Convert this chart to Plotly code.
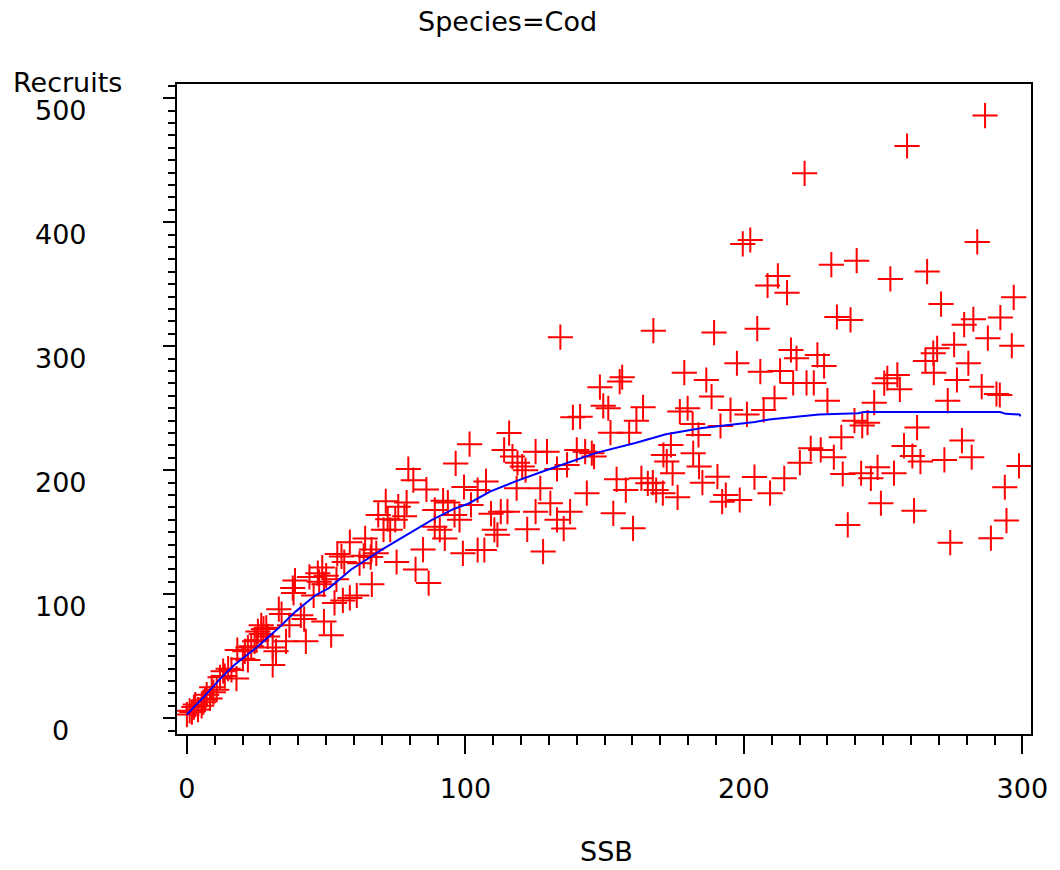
import plotly.graph_objects as go

# ---- data ----
ssb = [
    0.0, 1.0, 1.8, 2.5, 3.0, 4.0, 5.3, 5.9, 6.5, 7.1, 8.3, 8.9, 9.5, 10.7, 11.9, 13.0, 13.6, 14.8, 16.0, 17.8, 18.1,
    20.1, 21.9, 20.8, 21.9, 23.1, 24.3, 25.0, 25.5, 26.7, 27.5, 28.5, 26.7, 29.0, 30.8, 32.0, 30.8, 33.0, 34.0, 36.8, 35.6, 38.0, 38.3, 38.8, 40.9, 42.1,
    42.7, 44.0, 45.5, 47.0, 48.6, 50.0, 47.5, 49.2, 49.2, 51.8, 53.0, 56.0, 58.5, 61.0, 53.7, 56.5, 54.0, 55.5, 58.5,
    64.0, 62.0, 63.5, 66.0, 68.0, 66.3, 66.4, 70.6, 73.0, 72.1, 74.8, 68.7, 71.4, 75.9, 78.9, 78.1, 75.3, 82.1, 84.8, 86.8,
    79.5, 81.3, 86.0, 89.0, 92.0, 93.7, 96.1, 97.9, 89.0, 90.8, 92.6, 99.1, 96.5, 101.5, 99.5,
    104.4, 107.4, 102.0, 109.2, 112.7, 115.1, 110.4, 111.5, 104.4, 106.8, 118.4, 126.9, 125.2, 130.5, 132.9, 135.3, 137.6,
    122.2, 127.9, 115.7, 113.9, 116.9, 118.7, 120.4, 121.6, 125.2, 129.3, 132.9, 136.5, 134.1, 138.6,
    141.2, 140.0, 143.0, 145.4, 146.2, 143.6, 153.1, 160.2, 167.5, 189.3, 178.6, 186.5, 188.4, 156.3, 155.4, 148.3, 149.5,
    151.3, 163.8, 161.4, 152.1, 158.8, 177.0, 179.8, 195.2, 181.6, 183.7, 191.6, 173.8, 171.1, 172.3, 181.8, 183.9, 154.3,
    163.2, 165.5, 167.3, 174.4, 168.5, 170.9, 185.1, 190.5, 176.2, 157.6, 193.5, 192.2, 198.5, 197.5, 199.6,
    202.3, 204.8, 201.1, 203.8, 209.4, 214.5, 286.6, 258.6, 221.8, 283.8, 231.4, 240.5, 252.6, 265.8, 212.2, 208.5, 215.5,
    296.9, 270.8, 233.4, 238.3, 282.4, 279.1, 292.1, 287.6, 296.2, 275.5, 269.4, 268.0, 265.2, 280.6, 268.2, 276.5, 285.4,
    216.9, 218.9, 226.4, 228.8, 205.9, 213.0, 217.7, 222.5, 225.1, 255.1, 251.5, 250.4, 256.0, 290.7, 291.9, 211.0, 207.1,
    230.0, 246.8, 273.2, 239.7, 242.5, 244.4, 262.2, 278.3, 235.0, 224.0, 227.6, 232.3, 220.1, 257.5, 260.5, 263.4, 272.0,
    281.8, 298.8, 235.5, 242.1, 248.0, 245.6, 253.9, 293.7, 249.2, 261.1, 237.3, 294.3, 274.1, 288.7,
]
recruits = [
    3, 6, 5, 9, 11, 7, 10, 13, 15, 19, 16, 25, 21, 23, 33, 38, 34, 40, 39, 32, 55,
    48, 47, 54, 57, 58, 62, 63, 70, 75, 72, 73, 68, 66, 57, 54, 43, 88, 84, 75, 62, 105, 101, 111, 83, 80,
    62, 114, 99, 117, 121.5, 115, 110, 108, 78, 67, 93, 95, 97, 99, 112, 126, 132.5, 130.5, 142,
    145, 125, 131, 130, 133, 136, 108, 152, 152, 160.5, 160, 164, 175, 170.6, 174, 163, 126, 120, 136, 109,
    201, 192, 184.5, 168, 175.5, 174, 164, 160, 154.5, 152, 145, 133, 205.5, 221, 186.5,
    184, 191, 172, 165, 166.6, 166.6, 152, 148, 135.7, 135.7, 185.5, 185.5, 166.6, 173.4, 160, 153, 166.6,
    152.4, 134.4, 230, 216.4, 211, 206, 203, 200, 215, 215, 201, 204.3, 307.3, 242.7,
    243.2, 216.4, 215, 213.7, 211, 181.5, 165.3, 153.2, 312.6, 311, 278.7, 272.8, 259.4, 275, 271.5, 267, 252,
    250, 250.8, 240, 230.3, 230.3, 247.3, 250, 248.6, 237.3, 228.5, 235.7, 220.4, 212.3, 207, 213.7, 203, 192.7,
    193.5, 189.5, 190, 197.6, 184, 181.5, 190, 194.8, 178.2, 184, 180, 174.7, 176, 286.3, 382.5,
    385.7, 314.2, 245, 194.5, 181.5, 193.5, 486, 461.5, 439.5, 384.1, 365.8, 369, 354.3, 360.2, 356.7, 349, 343.2,
    339.5, 334, 323.6, 321.2, 321.8, 317.4, 323.1, 306.5, 300.5, 301.3, 298.4, 294.4, 288.1, 286.3, 278.7, 272.8, 267.4,
    297, 290.3, 293, 284.1, 279.5, 280.1, 270.4, 270.4, 270.4, 276.9, 274.2, 270.2, 265.3, 261.5, 260.7, 258, 248.6,
    256.1, 254.5, 256.1, 240, 236, 238.4, 234.4, 223.9, 226.6, 217.7, 216.4, 210.5, 206.1, 219.6, 211.5, 207, 208.3,
    210.5, 203.5, 197, 197.6, 202.4, 193.5, 197.6, 186.3, 173.4, 167.4, 155.9, 159.4, 141.6, 145.2,
]

fit_ssb = [0, 6, 12, 17, 25, 33, 39, 46, 51, 59, 70, 79, 88, 96, 101, 109, 118, 129, 137, 147, 161, 172, 185, 196,
           204, 209, 217, 227, 241, 243, 292, 294, 299, 299.3]
fit_rec = [3, 17, 32, 43, 57, 73, 86, 99, 105, 120, 136, 148, 160, 169, 173, 183, 191, 200, 206, 214, 222, 229, 234, 237,
           239, 241, 243, 245, 246, 247, 247, 245.5, 245, 243.5]

x_ticks = [0, 100, 200, 300]
y_ticks = [0, 100, 200, 300, 400, 500]

FONT = "DejaVu Sans"
FS = 27

fig = go.Figure()
fig.add_trace(go.Scatter(
    x=ssb, y=recruits, mode="markers",
    marker=dict(symbol="cross-thin", size=18, color="#ff0000",
                line=dict(color="#ff0000", width=2)),
    showlegend=False, hoverinfo="x+y",
))
fig.add_trace(go.Scatter(
    x=fit_ssb, y=fit_rec, mode="lines",
    line=dict(color="#0000ff", width=2),
    showlegend=False,
))

# plot area in the page: x 177..1038, y 84..734
PL, PR, PT, PB = 177, 1038, 84, 734
PW, PH = PR - PL, PB - PT

annotations = []
for v in y_ticks:
    annotations.append(dict(
        x=(60 - PL) / PW, xref="paper", y=v, yref="y", text=str(v), showarrow=False,
        xanchor="center", yanchor="middle", yshift=-12,
        font=dict(family=FONT, size=FS, color="black"),
    ))
annotations.append(dict(x=(67 - PL) / PW, xref="paper", y=(PB - 82) / PH, yref="paper",
                        text="Recruits", showarrow=False, xanchor="center", yanchor="middle",
                        font=dict(family=FONT, size=FS, color="black")))
annotations.append(dict(x=(610 - PL) / PW, xref="paper", y=(PB - 852) / PH, yref="paper",
                        text="SSB", showarrow=False, xanchor="center", yanchor="middle",
                        font=dict(family=FONT, size=FS, color="black")))
annotations.append(dict(x=(510 - PL) / PW, xref="paper", y=(PB - 21) / PH, yref="paper",
                        text="Species=Cod", showarrow=False, xanchor="center", yanchor="middle",
                        font=dict(family=FONT, size=FS, color="black")))

fig.update_layout(
    width=1060, height=870,
    margin=dict(l=PL, r=1060 - PR, t=PT, b=870 - PB, pad=0),
    paper_bgcolor="white", plot_bgcolor="white",
    font=dict(family=FONT, size=FS, color="black"),
    annotations=annotations,
    showlegend=False,
)
fig.update_xaxes(
    range=[-3.56, 303.1], tickmode="array", tickvals=x_ticks, ticktext=[str(v) for v in x_ticks],
    showline=True, linecolor="black", linewidth=2, mirror=True,
    ticks="outside", ticklen=18, tickwidth=2, tickcolor="black",
    minor=dict(dtick=10, tick0=0, ticks="outside", ticklen=9, tickwidth=2, tickcolor="black", showgrid=False),
    showgrid=False, zeroline=False, ticklabelstandoff=12,
    tickfont=dict(family=FONT, size=FS, color="black"),
)
fig.update_yaxes(
    range=[-12.7, 511.5], tickmode="array", tickvals=y_ticks, showticklabels=False,
    showline=True, linecolor="black", linewidth=2, mirror=True,
    ticks="outside", ticklen=12, tickwidth=2, tickcolor="black",
    minor=dict(dtick=10, tick0=0, ticks="outside", ticklen=7, tickwidth=2, tickcolor="black", showgrid=False),
    showgrid=False, zeroline=False,
)

# remove the browser's default 8px page margin so the figure sits at the window origin
fig.write_html("out.html", config={"displayModeBar": False},
               post_script="document.body.style.margin='0';")
